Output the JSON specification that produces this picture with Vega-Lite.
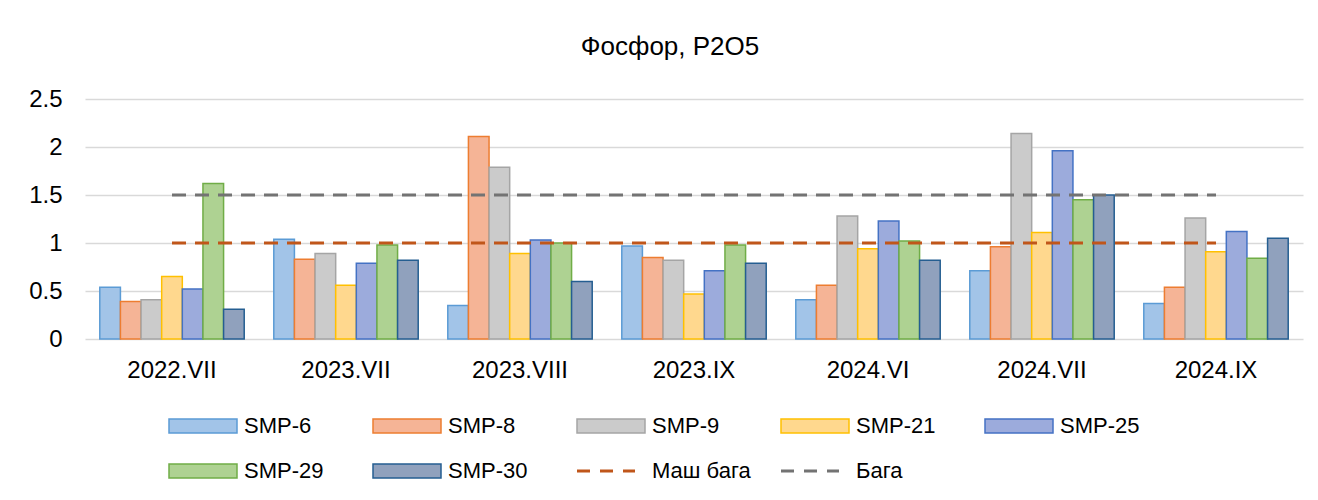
{
  "$schema": "https://vega.github.io/schema/vega-lite/v6.json",
  "width": 1218,
  "height": 240,
  "autosize": {"type": "none"},
  "padding": {"left": 85, "top": 99, "right": 15, "bottom": 161},
  "background": "white",
  "config": {
    "font": "Liberation Sans",
    "view": {"stroke": null},
    "axis": {"labelFont": "Liberation Sans", "labelColor": "#000000"},
    "legend": {"labelFont": "Liberation Sans", "labelColor": "#000000"}
  },
  "title": {
    "text": "Фосфор, P2O5",
    "fontSize": 26,
    "fontWeight": "normal",
    "color": "#000000",
    "anchor": "middle",
    "frame": "group",
    "dx": -24,
    "offset": 27
  },
  "datasets": {
    "bars": [
      {"period": "2022.VII", "series": "SMP-6", "value": 0.54},
      {"period": "2022.VII", "series": "SMP-8", "value": 0.39},
      {"period": "2022.VII", "series": "SMP-9", "value": 0.41},
      {"period": "2022.VII", "series": "SMP-21", "value": 0.65},
      {"period": "2022.VII", "series": "SMP-25", "value": 0.52},
      {"period": "2022.VII", "series": "SMP-29", "value": 1.62},
      {"period": "2022.VII", "series": "SMP-30", "value": 0.31},
      {"period": "2023.VII", "series": "SMP-6", "value": 1.04},
      {"period": "2023.VII", "series": "SMP-8", "value": 0.83},
      {"period": "2023.VII", "series": "SMP-9", "value": 0.89},
      {"period": "2023.VII", "series": "SMP-21", "value": 0.56},
      {"period": "2023.VII", "series": "SMP-25", "value": 0.79},
      {"period": "2023.VII", "series": "SMP-29", "value": 0.98},
      {"period": "2023.VII", "series": "SMP-30", "value": 0.82},
      {"period": "2023.VIII", "series": "SMP-6", "value": 0.35},
      {"period": "2023.VIII", "series": "SMP-8", "value": 2.11},
      {"period": "2023.VIII", "series": "SMP-9", "value": 1.79},
      {"period": "2023.VIII", "series": "SMP-21", "value": 0.89},
      {"period": "2023.VIII", "series": "SMP-25", "value": 1.03},
      {"period": "2023.VIII", "series": "SMP-29", "value": 1.0},
      {"period": "2023.VIII", "series": "SMP-30", "value": 0.6},
      {"period": "2023.IX", "series": "SMP-6", "value": 0.97},
      {"period": "2023.IX", "series": "SMP-8", "value": 0.85},
      {"period": "2023.IX", "series": "SMP-9", "value": 0.82},
      {"period": "2023.IX", "series": "SMP-21", "value": 0.47},
      {"period": "2023.IX", "series": "SMP-25", "value": 0.71},
      {"period": "2023.IX", "series": "SMP-29", "value": 0.98},
      {"period": "2023.IX", "series": "SMP-30", "value": 0.79},
      {"period": "2024.VI", "series": "SMP-6", "value": 0.41},
      {"period": "2024.VI", "series": "SMP-8", "value": 0.56},
      {"period": "2024.VI", "series": "SMP-9", "value": 1.28},
      {"period": "2024.VI", "series": "SMP-21", "value": 0.94},
      {"period": "2024.VI", "series": "SMP-25", "value": 1.23},
      {"period": "2024.VI", "series": "SMP-29", "value": 1.02},
      {"period": "2024.VI", "series": "SMP-30", "value": 0.82},
      {"period": "2024.VII", "series": "SMP-6", "value": 0.71},
      {"period": "2024.VII", "series": "SMP-8", "value": 0.96},
      {"period": "2024.VII", "series": "SMP-9", "value": 2.14},
      {"period": "2024.VII", "series": "SMP-21", "value": 1.11},
      {"period": "2024.VII", "series": "SMP-25", "value": 1.96},
      {"period": "2024.VII", "series": "SMP-29", "value": 1.45},
      {"period": "2024.VII", "series": "SMP-30", "value": 1.5},
      {"period": "2024.IX", "series": "SMP-6", "value": 0.37},
      {"period": "2024.IX", "series": "SMP-8", "value": 0.54},
      {"period": "2024.IX", "series": "SMP-9", "value": 1.26},
      {"period": "2024.IX", "series": "SMP-21", "value": 0.91},
      {"period": "2024.IX", "series": "SMP-25", "value": 1.12},
      {"period": "2024.IX", "series": "SMP-29", "value": 0.84},
      {"period": "2024.IX", "series": "SMP-30", "value": 1.05}
    ],
    "norms": [
      {"period": "2022.VII", "series": "Маш бага", "value": 1.0},
      {"period": "2023.VII", "series": "Маш бага", "value": 1.0},
      {"period": "2023.VIII", "series": "Маш бага", "value": 1.0},
      {"period": "2023.IX", "series": "Маш бага", "value": 1.0},
      {"period": "2024.VI", "series": "Маш бага", "value": 1.0},
      {"period": "2024.VII", "series": "Маш бага", "value": 1.0},
      {"period": "2024.IX", "series": "Маш бага", "value": 1.0},
      {"period": "2022.VII", "series": "Бага", "value": 1.5},
      {"period": "2023.VII", "series": "Бага", "value": 1.5},
      {"period": "2023.VIII", "series": "Бага", "value": 1.5},
      {"period": "2023.IX", "series": "Бага", "value": 1.5},
      {"period": "2024.VI", "series": "Бага", "value": 1.5},
      {"period": "2024.VII", "series": "Бага", "value": 1.5},
      {"period": "2024.IX", "series": "Бага", "value": 1.5}
    ]
  },
  "encoding": {
    "x": {
      "field": "period",
      "type": "nominal",
      "sort": ["2022.VII", "2023.VII", "2023.VIII", "2023.IX", "2024.VI", "2024.VII", "2024.IX"],
      "scale": {"paddingInner": 0.17, "paddingOuter": 0.085},
      "axis": {
        "title": null,
        "labelAngle": 0,
        "labelFontSize": 24,
        "labelPadding": 19,
        "domain": false,
        "ticks": false,
        "grid": false
      }
    },
    "y": {
      "field": "value",
      "type": "quantitative",
      "scale": {"domain": [0, 2.5], "nice": false, "zero": true},
      "axis": {
        "title": null,
        "values": [0, 0.5, 1, 1.5, 2, 2.5],
        "format": "~g",
        "labelFontSize": 24,
        "labelPadding": 23,
        "domain": false,
        "ticks": false,
        "grid": true,
        "gridColor": "#D9D9D9",
        "gridWidth": 1.3
      }
    }
  },
  "layer": [
    {
      "data": {"name": "bars"},
      "mark": {"type": "bar", "strokeWidth": 1.5, "fillOpacity": 1},
      "encoding": {
        "xOffset": {
          "field": "series",
          "type": "nominal",
          "sort": ["SMP-6", "SMP-8", "SMP-9", "SMP-21", "SMP-25", "SMP-29", "SMP-30"],
          "scale": {"paddingInner": 0, "paddingOuter": 0}
        },
        "color": {
          "field": "series",
          "type": "nominal",
          "scale": {
            "domain": ["SMP-6", "SMP-8", "SMP-9", "SMP-21", "SMP-25", "SMP-29", "SMP-30", "Маш бага", "Бага"],
            "range": ["#A2C4E8", "#F5B496", "#CBCBCB", "#FFD88E", "#9CABDC", "#AED292", "#90A1BD", "transparent", "transparent"]
          },
          "legend": {
            "title": null,
            "orient": "none",
            "legendX": 83,
            "legendY": 316,
            "direction": "horizontal",
            "columns": 5,
            "gridAlign": "all",
            "columnPadding": 24,
            "rowPadding": 23,
            "padding": 0,
            "symbolSize": 400,
            "symbolOffset": 24,
            "symbolStrokeWidth": 1.5,
            "labelOffset": 30,
            "labelFontSize": 22,
            "labelLimit": 300,
            "encode": {
              "symbols": {
                "update": {
                  "shape": {"signal": "indexof(['Маш бага','Бага'], datum.value) >= 0 ? 'M-3.4,0H2.4' : 'M-3.4,-0.7H3.4V0.7H-3.4Z'"},
                  "strokeDash": {"signal": "indexof(['Маш бага','Бага'], datum.value) >= 0 ? [13, 10] : null"},
                  "strokeWidth": {"signal": "indexof(['Маш бага','Бага'], datum.value) >= 0 ? 3 : 1.5"},
                  "opacity": {"value": 1},
                  "fillOpacity": {"value": 1},
                  "strokeOpacity": {"value": 1}
                }
              }
            }
          }
        },
        "stroke": {
          "field": "series",
          "type": "nominal",
          "scale": {
            "domain": ["SMP-6", "SMP-8", "SMP-9", "SMP-21", "SMP-25", "SMP-29", "SMP-30", "Маш бага", "Бага"],
            "range": ["#5B9BD5", "#ED7D31", "#A5A5A5", "#FFC000", "#4472C4", "#70AD47", "#255E91", "#C0561A", "#737373"]
          },
          "legend": {
            "title": null,
            "orient": "none",
            "legendX": 83,
            "legendY": 316,
            "direction": "horizontal",
            "columns": 5,
            "gridAlign": "all",
            "columnPadding": 24,
            "rowPadding": 23,
            "padding": 0,
            "symbolSize": 400,
            "symbolOffset": 24,
            "symbolStrokeWidth": 1.5,
            "labelOffset": 30,
            "labelFontSize": 22,
            "labelLimit": 300,
            "encode": {
              "symbols": {
                "update": {
                  "shape": {"signal": "indexof(['Маш бага','Бага'], datum.value) >= 0 ? 'M-3.4,0H2.4' : 'M-3.4,-0.7H3.4V0.7H-3.4Z'"},
                  "strokeDash": {"signal": "indexof(['Маш бага','Бага'], datum.value) >= 0 ? [13, 10] : null"},
                  "strokeWidth": {"signal": "indexof(['Маш бага','Бага'], datum.value) >= 0 ? 3 : 1.5"},
                  "opacity": {"value": 1},
                  "fillOpacity": {"value": 1},
                  "strokeOpacity": {"value": 1}
                }
              }
            }
          }
        }
      }
    },
    {
      "data": {"name": "norms"},
      "mark": {"type": "line", "strokeWidth": 3, "strokeDash": [14, 9], "strokeCap": "butt"},
      "encoding": {
        "stroke": {"field": "series", "type": "nominal"}
      }
    }
  ]
}
